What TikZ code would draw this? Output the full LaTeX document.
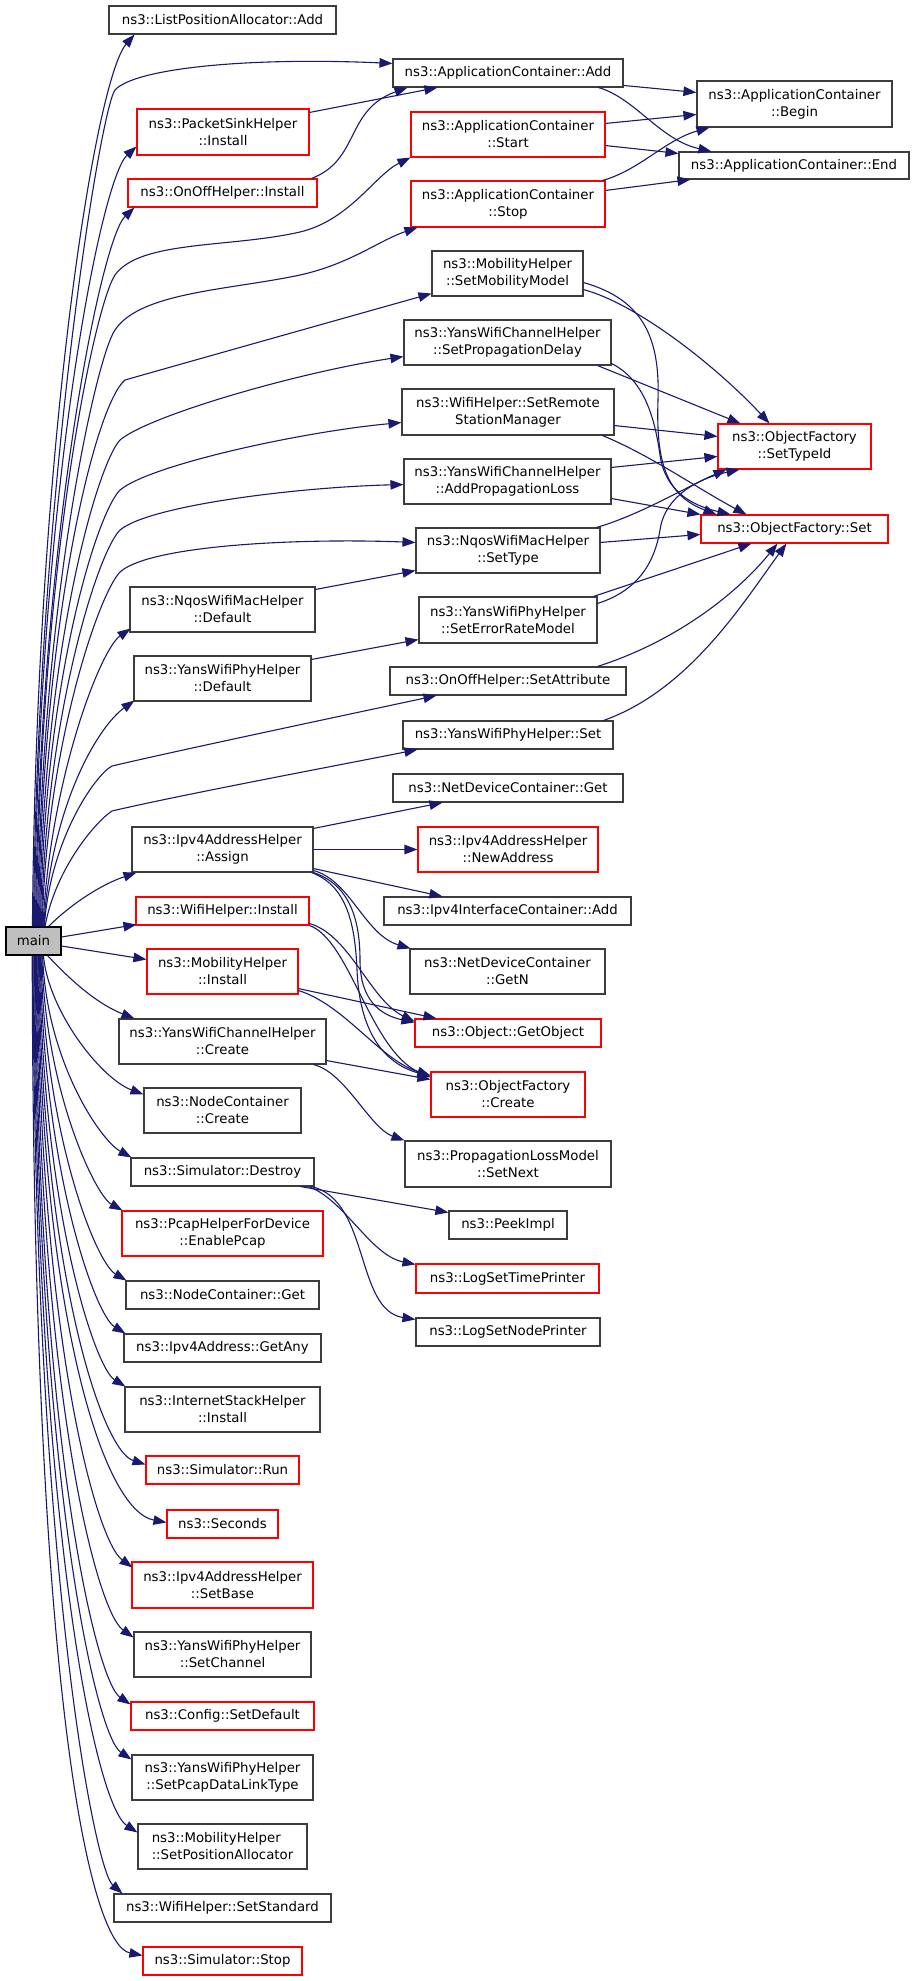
\documentclass[tikz,border=0pt]{standalone}
\usepackage{fontspec}
\setmainfont{DejaVu Sans}
\usetikzlibrary{arrows.meta}
\definecolor{edgec}{RGB}{25,25,112}
\definecolor{mainfill}{RGB}{191,191,191}
\definecolor{bordergray}{RGB}{60,60,60}
\definecolor{redborder}{RGB}{255,0,0}
\newcommand\mkbox[7]{\node[#7, minimum width={(#4-#2)*1pt}, minimum height={(#5-#3)*1pt}] (#1) at ({(#2+#4)/2},{(#3+#5)/2}) {#6};}
\begin{document}
\begin{tikzpicture}[x=1pt,y=-1pt,
  fn/.style={draw=bordergray, line width=1.1pt, fill=white, inner sep=0pt, align=center,
    font=\fontsize{13.3}{17}\selectfont},
  fnr/.style={fn, draw=redborder},
  fnm/.style={fn, fill=mainfill, draw=black},
  fnl/.style={fn, align=left},
  e/.style={draw=edgec, line width=1.1pt, -{Triangle[length=13pt,width=9.5pt]}}]
\useasboundingbox[fill=white] (0,0) rectangle (915,1981);

% nodes
\mkbox{lpa}{109}{6}{336}{34}{ns3::ListPositionAllocator::Add}{fn}
\mkbox{acadd}{393}{59}{623}{87}{ns3::ApplicationContainer::Add}{fn}
\mkbox{psh}{137}{109}{309}{155}{ns3::PacketSinkHelper\\::Install}{fnr}
\mkbox{ooi}{128}{179}{317}{207}{ns3::OnOffHelper::Install}{fnr}
\mkbox{acstart}{411}{112}{605}{157}{ns3::ApplicationContainer\\::Start}{fnr}
\mkbox{acstop}{411}{181}{605}{227}{ns3::ApplicationContainer\\::Stop}{fnr}
\mkbox{acbegin}{697}{81}{892}{127}{ns3::ApplicationContainer\\::Begin}{fn}
\mkbox{acend}{679}{152}{909}{179}{ns3::ApplicationContainer::End}{fn}
\mkbox{smm}{432}{251}{583}{296}{ns3::MobilityHelper\\::SetMobilityModel}{fn}
\mkbox{spd}{404}{320}{611}{365}{ns3::YansWifiChannelHelper\\::SetPropagationDelay}{fn}
\mkbox{srsm}{402}{389}{614}{435}{ns3::WifiHelper::SetRemote\\StationManager}{fn}
\mkbox{apl}{404}{459}{611}{504}{ns3::YansWifiChannelHelper\\::AddPropagationLoss}{fn}
\mkbox{settypeid}{718}{424}{871}{469}{ns3::ObjectFactory\\::SetTypeId}{fnr}
\mkbox{ofset}{701}{515}{888}{543}{ns3::ObjectFactory::Set}{fnr}
\mkbox{settype}{416}{528}{600}{573}{ns3::NqosWifiMacHelper\\::SetType}{fn}
\mkbox{nqdef}{130}{587}{315}{632}{ns3::NqosWifiMacHelper\\::Default}{fn}
\mkbox{erm}{419}{597}{597}{643}{ns3::YansWifiPhyHelper\\::SetErrorRateModel}{fn}
\mkbox{ypdef}{134}{656}{311}{701}{ns3::YansWifiPhyHelper\\::Default}{fn}
\mkbox{setattr}{390}{667}{626}{695}{ns3::OnOffHelper::SetAttribute}{fn}
\mkbox{ypset}{403}{721}{613}{749}{ns3::YansWifiPhyHelper::Set}{fn}
\mkbox{ndcget}{393}{774}{623}{802}{ns3::NetDeviceContainer::Get}{fn}
\mkbox{assign}{132}{827}{313}{872}{ns3::Ipv4AddressHelper\\::Assign}{fn}
\mkbox{newaddr}{418}{827}{598}{872}{ns3::Ipv4AddressHelper\\::NewAddress}{fnr}
\mkbox{ifcadd}{384}{897}{631}{925}{ns3::Ipv4InterfaceContainer::Add}{fn}
\mkbox{main}{6}{927}{61}{955}{main}{fnm}
\mkbox{wifiinst}{136}{897}{309}{925}{ns3::WifiHelper::Install}{fnr}
\mkbox{mobinst}{147}{949}{298}{994}{ns3::MobilityHelper\\::Install}{fnr}
\mkbox{getn}{410}{949}{605}{994}{ns3::NetDeviceContainer\\::GetN}{fn}
\mkbox{ywccreate}{119}{1019}{326}{1064}{ns3::YansWifiChannelHelper\\::Create}{fn}
\mkbox{getobj}{415}{1019}{601}{1047}{ns3::Object::GetObject}{fnr}
\mkbox{ofcreate}{431}{1072}{585}{1117}{ns3::ObjectFactory\\::Create}{fnr}
\mkbox{nccreate}{144}{1088}{301}{1133}{ns3::NodeContainer\\::Create}{fn}
\mkbox{setnext}{405}{1141}{611}{1187}{ns3::PropagationLossModel\\::SetNext}{fn}
\mkbox{destroy}{131}{1158}{314}{1186}{ns3::Simulator::Destroy}{fn}
\mkbox{peek}{449}{1211}{567}{1239}{ns3::PeekImpl}{fn}
\mkbox{pcap}{122}{1211}{323}{1256}{ns3::PcapHelperForDevice\\::EnablePcap}{fnr}
\mkbox{logtime}{416}{1264}{599}{1293}{ns3::LogSetTimePrinter}{fnr}
\mkbox{ncget}{126}{1281}{319}{1309}{ns3::NodeContainer::Get}{fn}
\mkbox{lognode}{416}{1318}{600}{1346}{ns3::LogSetNodePrinter}{fn}
\mkbox{getany}{124}{1334}{321}{1362}{ns3::Ipv4Address::GetAny}{fn}
\mkbox{ishinst}{125}{1387}{320}{1432}{ns3::InternetStackHelper\\::Install}{fn}
\mkbox{run}{146}{1456}{299}{1484}{ns3::Simulator::Run}{fnr}
\mkbox{seconds}{167}{1510}{278}{1538}{ns3::Seconds}{fnr}
\mkbox{setbase}{132}{1562}{313}{1608}{ns3::Ipv4AddressHelper\\::SetBase}{fnr}
\mkbox{setchan}{134}{1632}{311}{1677}{ns3::YansWifiPhyHelper\\::SetChannel}{fn}
\mkbox{cfgdef}{131}{1702}{314}{1730}{ns3::Config::SetDefault}{fnr}
\mkbox{pcapdlt}{132}{1755}{313}{1800}{ns3::YansWifiPhyHelper\\::SetPcapDataLinkType}{fn}
\mkbox{setposalloc}{138}{1824}{307}{1869}{ns3::MobilityHelper\\::SetPositionAllocator}{fnl}
\mkbox{setstd}{114}{1894}{331}{1922}{ns3::WifiHelper::SetStandard}{fn}
\mkbox{simstop}{143}{1947}{302}{1975}{ns3::Simulator::Stop}{fnr}

% main -> upper
\draw[e] ([xshift=27pt]main.north west) .. controls (36,450) and (95,80) .. ([xshift=26pt]lpa.south west);
\draw[e] ([xshift=28pt]main.north west) .. controls (37,500) and (100,110) .. (115,90) .. controls (135,68) and (250,57) .. ([yshift=-5pt]acadd.north west);
\draw[e] ([xshift=29pt]main.north west) .. controls (38,500) and (100,180) .. ([yshift=9pt]psh.south west);
\draw[e] ([xshift=30pt]main.north west) .. controls (39,550) and (100,240) .. ([xshift=7pt]ooi.south west);
\draw[e] ([xshift=31pt]main.north west) .. controls (40,560) and (95,305) .. (115,275) .. controls (140,240) and (230,248) .. (300,232) .. controls (350,220) and (375,175) .. (acstart.south west);
\draw[e] ([xshift=32pt]main.north west) .. controls (41,600) and (97,355) .. (115,330) .. controls (140,292) and (230,290) .. (300,275) .. controls (350,264) and (380,240) .. ([xshift=7pt]acstop.south west);
\draw[e] ([xshift=33pt]main.north west) .. controls (42,620) and (95,405) .. (125,380) .. controls (160,370) and (330,322) .. ([yshift=3pt]smm.south west);
\draw[e] ([xshift=34pt]main.north west) .. controls (43,650) and (97,465) .. (120,440) .. controls (150,415) and (300,372) .. ([yshift=9pt]spd.south west);
\draw[e] ([xshift=35pt]main.north west) .. controls (44,680) and (97,513) .. (120,490) .. controls (150,465) and (300,432) .. ([yshift=13pt]srsm.south west);
\draw[e] ([xshift=36pt]main.north west) .. controls (45,720) and (97,553) .. (120,530) .. controls (150,505) and (300,487) .. ([yshift=20pt]apl.south west);
\draw[e] ([xshift=36.8pt]main.north west) .. controls (46,750) and (98,595) .. (120,572) .. controls (150,545) and (300,538) .. ([yshift=-15pt]settype.north west);
\draw[e] ([xshift=37.5pt]main.north west) .. controls (50,780) and (100,650) .. ([xshift=1pt,yshift=4pt]nqdef.south west);
\draw[e] ([xshift=38.2pt]main.north west) .. controls (52,800) and (100,725) .. ([xshift=1pt,yshift=1pt]ypdef.south west);
\draw[e] ([xshift=38.9pt]main.north west) .. controls (50,840) and (95,775) .. (112,766) .. controls (180,750) and (360,712) .. ([xshift=47pt]setattr.south west);
\draw[e] ([xshift=39.6pt]main.north west) .. controls (55,870) and (95,822) .. (112,811) .. controls (180,795) and (340,765) .. ([xshift=15pt]ypset.south west);
\draw[e] ([xshift=-13pt]main.north east) .. controls (70,905) and (100,885) .. ([xshift=5pt]assign.south west);
\draw[e] ([yshift=4pt]main.east) -- ([xshift=1pt,yshift=1pt]wifiinst.south west);
\draw[e] ([yshift=-5pt]main.east) -- ([yshift=-11pt]mobinst.north west);
\draw[e] ([xshift=-14pt]main.south east) .. controls (75,985) and (100,1005) .. ([xshift=16pt]ywccreate.north west);

% main -> lower
\draw[e] ([xshift=38pt]main.south west) .. controls (48,1010) and (100,1078) .. ([yshift=-7pt]nccreate.north west);
\draw[e] ([xshift=37.2pt]main.south west) .. controls (46,1060) and (100,1140) .. ([xshift=1pt]destroy.north west);
\draw[e] ([xshift=36.4pt]main.south west) .. controls (45,1090) and (95,1195) .. ([xshift=1pt]pcap.north west);
\draw[e] ([xshift=35.6pt]main.south west) .. controls (44,1130) and (95,1262) .. ([xshift=1pt]ncget.north west);
\draw[e] ([xshift=34.8pt]main.south west) .. controls (43,1170) and (95,1315) .. ([xshift=2pt]getany.north west);
\draw[e] ([xshift=34pt]main.south west) .. controls (42,1210) and (95,1368) .. ([xshift=1pt]ishinst.north west);
\draw[e] ([xshift=33.2pt]main.south west) .. controls (41,1260) and (100,1450) .. ([yshift=-9pt]run.north west);
\draw[e] ([xshift=32.4pt]main.south west) .. controls (40,1300) and (100,1510) .. ([yshift=-13pt]seconds.north west);
\draw[e] ([xshift=31.6pt]main.south west) .. controls (39,1330) and (95,1540) .. ([xshift=1pt,yshift=-6pt]setbase.north west);
\draw[e] ([xshift=30.8pt]main.south west) .. controls (38,1380) and (95,1610) .. ([yshift=-6pt]setchan.north west);
\draw[e] ([xshift=30pt]main.south west) .. controls (37,1430) and (95,1680) .. ([yshift=-3pt]cfgdef.north west);
\draw[e] ([xshift=29.2pt]main.south west) .. controls (36,1470) and (95,1735) .. ([yshift=-5pt]pcapdlt.north west);
\draw[e] ([xshift=28.4pt]main.south west) .. controls (35,1520) and (95,1805) .. ([yshift=-9pt]setposalloc.north west);
\draw[e] ([xshift=27.6pt]main.south west) .. controls (34,1570) and (95,1870) .. ([xshift=9pt]setstd.north west);
\draw[e] ([xshift=26.8pt]main.south west) .. controls (33,1700) and (90,1945) .. ([yshift=-9pt]simstop.north west);

% second level
\draw[e] ([yshift=-4pt]psh.north east) -- ([xshift=45pt]acadd.south west);
\draw[e] ([xshift=-6pt]ooi.north east) .. controls (360,160) and (345,110) .. ([xshift=15pt]acadd.south west);
\draw[e] ([yshift=-27pt]acadd.north east) -- ([yshift=-12pt]acbegin.north west);
\draw[e] ([xshift=-25pt]acadd.south east) .. controls (635,98) and (660,140) .. ([xshift=33pt]acend.north west);
\draw[e] ([yshift=-12pt]acstart.north east) -- ([yshift=-34pt]acbegin.north west);
\draw[e] ([yshift=12pt]acstart.south east) -- ([yshift=-2pt]acend.north west);
\draw[e] ([xshift=-3pt]acstop.north east) .. controls (640,170) and (665,140) .. ([xshift=13pt]acbegin.south west);
\draw[e] ([yshift=-10pt]acstop.north east) -- ([xshift=12pt]acend.south west);

\draw[e] ([yshift=7pt]smm.south east) .. controls (640,305) and (720,370) .. ([xshift=52pt]settypeid.north west);
\draw[e] ([yshift=14pt]smm.south east) .. controls (645,300) and (660,340) .. (658,400) .. controls (656,460) and (665,495) .. ([xshift=16pt]ofset.north west);
\draw[e] ([xshift=-14pt]spd.south east) -- ([xshift=23pt]settypeid.north west);
\draw[e] ([yshift=2pt]spd.south east) .. controls (645,380) and (655,420) .. (660,455) .. controls (665,490) and (690,505) .. ([xshift=30pt]ofset.north west);
\draw[e] ([yshift=10pt]srsm.south east) -- ([yshift=-13pt]settypeid.north west);
\draw[e] ([xshift=-12pt]srsm.south east) .. controls (650,455) and (700,490) .. ([xshift=46pt]ofset.north west);
\draw[e] ([yshift=-9pt]apl.north east) -- ([yshift=-33pt]settypeid.north west);
\draw[e] ([yshift=6pt]apl.south east) -- (ofset.north west);
\draw[e] ([xshift=-4pt]settype.north east) .. controls (640,515) and (690,485) .. ([xshift=9pt]settypeid.south west);
\draw[e] ([yshift=-15pt]settype.north east) -- ([yshift=-20pt]ofset.north west);
\draw[e] ([xshift=-4pt]erm.north east) -- ([xshift=51pt]ofset.south west);
\draw[e] ([yshift=-7pt]erm.north east) .. controls (640,590) and (655,560) .. (660,530) .. controls (665,495) and (700,478) .. ([xshift=22pt]settypeid.south west);
\draw[e] ([xshift=-29pt]setattr.north east) .. controls (680,640) and (740,590) .. ([xshift=77pt]ofset.south west);
\draw[e] ([xshift=-10pt]ypset.north east) .. controls (690,690) and (745,600) .. ([xshift=86pt]ofset.south west);
\draw[e] ([yshift=-3pt]nqdef.north east) -- ([yshift=3pt]settype.south west);
\draw[e] ([yshift=-4pt]ypdef.north east) -- ([yshift=4pt]erm.south west);

\draw[e] ([yshift=-2pt]assign.north east) -- ([xshift=50pt]ndcget.south west);
\draw[e] (assign.east) -- (newaddr.west);
\draw[e] ([yshift=4pt]assign.south east) -- ([xshift=59pt]ifcadd.north west);
\draw[e] ([yshift=2pt]assign.south east) .. controls (350,880) and (365,935) .. ([xshift=1pt]getn.north west);
\draw[e] (assign.south east) .. controls (350,885) and (360,920) .. (360,960) .. controls (360,1000) and (380,1015) .. ([yshift=-4pt]getobj.north west);
\draw[e] ([xshift=-2pt]assign.south east) .. controls (345,885) and (355,920) .. (357,970) .. controls (360,1040) and (390,1065) .. ([yshift=-5pt]ofcreate.north west);
\draw[e] ([yshift=2pt]wifiinst.south east) .. controls (350,935) and (370,1000) .. ([yshift=-3pt]getobj.north west);
\draw[e] (wifiinst.south east) .. controls (350,940) and (370,1050) .. ([yshift=-6pt]ofcreate.north west);
\draw[e] ([yshift=6pt]mobinst.south east) -- ([xshift=22pt]getobj.north west);
\draw[e] ([yshift=4pt]mobinst.south east) .. controls (345,1005) and (380,1060) .. ([yshift=-4pt]ofcreate.north west);
\draw[e] ([yshift=4pt]ywccreate.south east) -- ([yshift=-8pt]ofcreate.north west);
\draw[e] ([xshift=-13pt]ywccreate.south east) .. controls (345,1072) and (370,1128) .. (setnext.north west);
\draw[e] ([xshift=-14pt]destroy.south east) -- ([yshift=-2pt]peek.north west);
\draw[e] ([xshift=-6pt]destroy.south east) .. controls (345,1200) and (370,1255) .. ([yshift=-1pt]logtime.north west);
\draw[e] ([xshift=-3pt]destroy.south east) .. controls (370,1200) and (355,1310) .. ([yshift=-2pt]lognode.north west);
\end{tikzpicture}
\end{document}
